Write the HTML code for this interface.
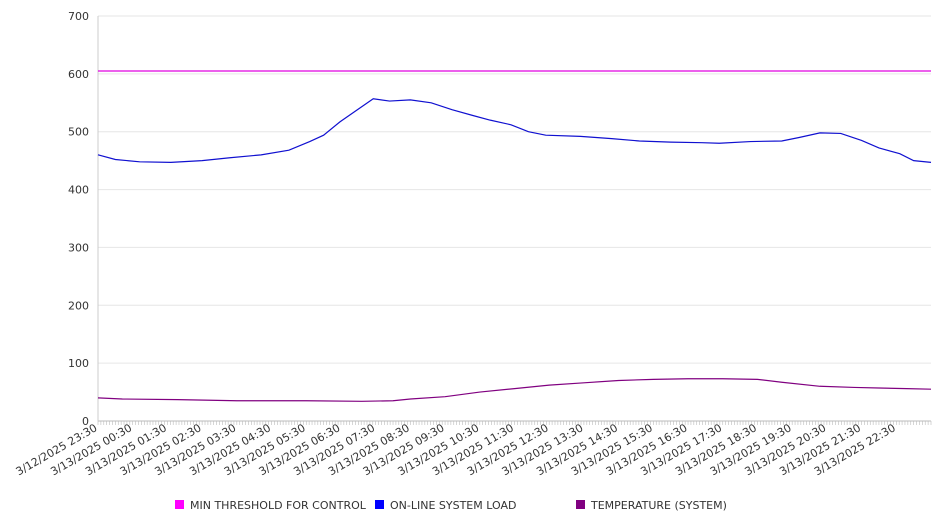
<!DOCTYPE html>
<html><head><meta charset="utf-8"><style>
body{margin:0;background:#fff;font-family:"DejaVu Sans","Liberation Sans",sans-serif;}
svg text{font-family:"DejaVu Sans","Liberation Sans",sans-serif;fill:#333;font-size:11px;}
</style></head><body>
<svg id="chart" width="946" height="526" xmlns="http://www.w3.org/2000/svg"></svg>
<script>
const xLabels=["3/12/2025 23:30","3/13/2025 00:30","3/13/2025 01:30","3/13/2025 02:30","3/13/2025 03:30","3/13/2025 04:30","3/13/2025 05:30","3/13/2025 06:30","3/13/2025 07:30","3/13/2025 08:30","3/13/2025 09:30","3/13/2025 10:30","3/13/2025 11:30","3/13/2025 12:30","3/13/2025 13:30","3/13/2025 14:30","3/13/2025 15:30","3/13/2025 16:30","3/13/2025 17:30","3/13/2025 18:30","3/13/2025 19:30","3/13/2025 20:30","3/13/2025 21:30","3/13/2025 22:30"];
const yTicks=[0,100,200,300,400,500,600,700];
const loadHours=[0,0.5,1.2,2.1,3,3.8,4.7,5.5,6.1,6.5,6.97,7.4,7.93,8.4,9,9.6,10.2,10.8,11.3,11.9,12.4,12.9,13.9,14.8,15.6,16.5,17.4,17.9,18.8,19.7,20.2,20.8,21.4,22,22.5,23.1,23.5,24];
const loadValues=[460,452,448,447,450,455,460,468,483,494,517,535,557,553,555,550,538,528,520,512,500,494,492,488,484,482,481,480,483,484,490,498,497,485,472,462,450,447];
const tempHours=[0,0.7,2.3,4,6,7.6,8.5,9,10,11,12,13,14,15,16,17,18,19,19.7,20.8,21.8,22.5,23.3,24];
const tempValues=[40,38,37,35,35,34,35,38,42,50,56,62,66,70,72,73,73,72,67,60,58,57,56,55];
const thresholdValue=605;

const svg=document.getElementById('chart');
const NS='http://www.w3.org/2000/svg';
const X0=98,X1=931,Y0=421,Y1=16,HOURS=24,YMAX=700;
const xs=h=>X0+(X1-X0)*h/HOURS;
const ys=v=>Y0-(Y0-Y1)*v/YMAX;
function mk(tag,attrs,parent){const e=document.createElementNS(NS,tag);for(const k in attrs)e.setAttribute(k,attrs[k]);(parent||svg).appendChild(e);return e;}

yTicks.forEach(v=>{
  const g=mk('line',{x1:X0,x2:X1,y1:ys(v),y2:ys(v),stroke:v===0?'#bbb':'#e6e6e6','stroke-width':1});
  
  
  const t=mk('text',{x:X0-9,y:ys(v)+4,'text-anchor':'end'});
  t.textContent=v;
  
  
});
const ax=mk('line',{x1:X0,x2:X0,y1:Y1,y2:Y0,stroke:'#ccc'});


for(let i=0;i<=HOURS*12;i++){
  const x=xs(i/12);
  const tk=mk('line',{x1:x,x2:x,y1:Y0,y2:Y0+4,stroke:'#bbb','stroke-width':0.6});
  
  
}
xLabels.forEach((l,i)=>{
  const x=xs(i),y=Y0+9;
  const t=mk('text',{x:x,y:y,'text-anchor':'end',transform:`rotate(-30 ${x} ${y})`});
  t.textContent=l;
  
  
});
function series(hs,vs,color,name){
  const p=mk('polyline',{points:hs.map((h,i)=>xs(h)+','+ys(vs[i])).join(' '),fill:'none',stroke:color,'stroke-width':1.2});
  
  
}
series([0,HOURS],[thresholdValue,thresholdValue],'#e000e0','min-threshold-line');
series(loadHours,loadValues,'#1010d0','online-system-load-line');
series(tempHours,tempValues,'#800080','temperature-line');

const legend=[["MIN THRESHOLD FOR CONTROL","#ff00ff",175],["ON-LINE SYSTEM LOAD","#0000ff",375],["TEMPERATURE (SYSTEM)","#800080",576]];
legend.forEach(([lab,c,x])=>{
  const g=mk('g',{});
  
  
  mk('rect',{x:x,y:500,width:9,height:9,fill:c},g);
  const t=mk('text',{x:x+15,y:509},g);
  t.textContent=lab;
});
</script>
</body></html>
